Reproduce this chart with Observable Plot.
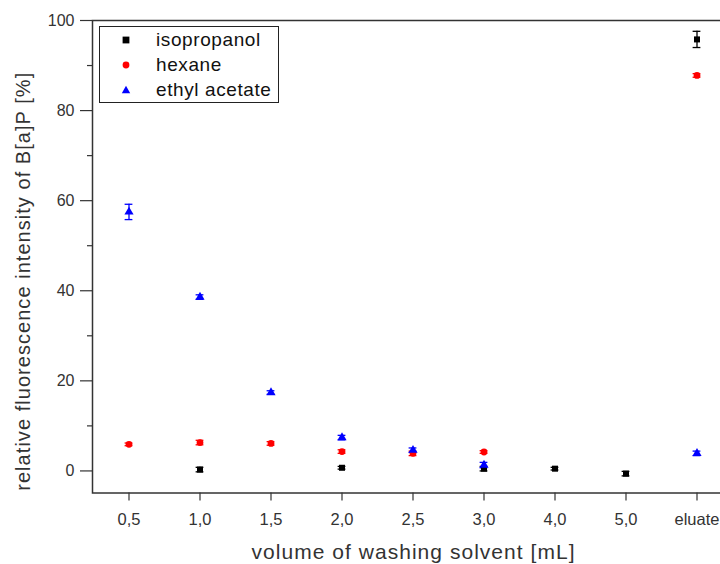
<!DOCTYPE html>
<html>
<head>
<meta charset="utf-8">
<script src="https://cdn.jsdelivr.net/npm/d3@7"></script>
<script src="https://cdn.jsdelivr.net/npm/@observablehq/plot@0.6"></script>
<style>
  html, body { margin: 0; padding: 0; background: white; overflow: hidden; }
  #wrap { position: relative; width: 720px; height: 564px; font-family: "Liberation Sans", Arial, sans-serif; }
  #legend { position: absolute; left: 99px; top: 26px; width: 178px; height: 75px; border: 1.5px solid #222; background: white; }
  .row { position: absolute; left: 0; height: 22px; display: flex; align-items: center; font-size: 19px; letter-spacing: 0.6px; color: #111; }
  .row svg { position: absolute; left: 20px; }
  .row span { position: absolute; left: 56px; white-space: nowrap; }
</style>
</head>
<body>
<div id="wrap"></div>
<script>
const categories = ["0,5", "1,0", "1,5", "2,0", "2,5", "3,0", "4,0", "5,0", "eluate"];
const seriesNames = ["isopropanol", "hexane", "ethyl acetate"];
const seriesColors = ["#000000", "#ff0000", "#0000ff"];
const seriesSymbols = ["square", "circle", "triangle"];
const isopropanol    = [null, 0.3, null, 0.7, null, 0.5, 0.5, -0.6, 95.8];
const isopropanolErr = [null, 0.5, null, 0.3, null, 0.5, 0.3, 0.5, 1.8];
const hexane         = [5.9, 6.3, 6.1, 4.3, 3.9, 4.2, null, null, 87.8];
const hexaneErr      = [0.3, 0.5, 0.4, 0.4, 0.5, 0.3, null, null, 0.4];
const ethylAcetate    = [57.5, 38.6, 17.4, 7.4, 4.6, 1.3, null, null, 3.9];
const ethylAcetateErr = [1.7, 0.5, 0.4, 0.5, 0.5, 0.6, null, null, 0.5];
const yMajorTicks = [0, 20, 40, 60, 80, 100];
const yMinorTicks = [10, 30, 50, 70, 90];
const xLabel = "volume of washing solvent [mL]";
const yLabel = "relative fluorescence intensity of B[a]P [%]";

const values = [isopropanol, hexane, ethylAcetate];
const errors = [isopropanolErr, hexaneErr, ethylAcetateErr];
const rows = [];
seriesNames.forEach((s, i) => {
  categories.forEach((c, j) => {
    if (values[i][j] != null) rows.push({series: s, cat: c, v: values[i][j], e: errors[i][j]});
  });
});

const W = 720, H = 564, ML = 92, MR = -13, MT = 20, MB = 71.5;
const bandwidth = (W - MR - ML) / categories.length;
const capInset = bandwidth / 2 - 4;

const font = "Liberation Sans, Arial, sans-serif";
const chart = Plot.plot({
  width: W,
  height: H,
  marginLeft: ML,
  marginRight: MR,
  marginTop: MT,
  marginBottom: MB,
  style: {fontFamily: font, fontSize: "16px", color: "#333", background: "white"},
  x: {type: "band", domain: categories, padding: 0},
  y: {domain: [-4.9, 100]},
  color: {domain: seriesNames, range: seriesColors},
  symbol: {domain: seriesNames, range: seriesSymbols},
  marks: [
    Plot.axisY(yMajorTicks, {tickSize: 12, tickPadding: 6, label: null, stroke: "#333", strokeWidth: 1.2, fill: "#333", fontSize: 16}),
    Plot.axisY(yMinorTicks, {tickSize: 5, tickFormat: () => "", label: null, stroke: "#333", strokeWidth: 1.2}),
    Plot.axisX({tickSize: 8, tickPadding: 12, label: null, stroke: "#333", strokeWidth: 1.2, fill: "#333", fontSize: 16.5}),
    Plot.frame({stroke: "#333", strokeWidth: 1.5}),
    Plot.ruleX(rows, {x: "cat", y1: d => d.v - d.e, y2: d => d.v + d.e, stroke: "series", strokeWidth: 1.3}),
    Plot.tickY(rows, {x: "cat", y: d => d.v + d.e, stroke: "series", strokeWidth: 1.3, insetLeft: capInset, insetRight: capInset}),
    Plot.tickY(rows, {x: "cat", y: d => d.v - d.e, stroke: "series", strokeWidth: 1.3, insetLeft: capInset, insetRight: capInset}),
    Plot.dot(rows, {x: "cat", y: "v", symbol: "series", fill: "series", stroke: "none", r: 3.4}),
    Plot.text([xLabel], {frameAnchor: "bottom", text: d => d, textAnchor: "middle", lineAnchor: "middle", dy: 59, fontSize: 21, fill: "#333"}),
    Plot.text([yLabel], {frameAnchor: "left", text: d => d, rotate: -90, textAnchor: "middle", lineAnchor: "middle", dx: -69, dy: 25, fontSize: 20, fill: "#333"})
  ]
});
d3.select(chart).selectAll("text").each(function() {
  const t = this.textContent;
  if (t === xLabel) d3.select(this).attr("textLength", 323).attr("lengthAdjust", "spacing");
  if (t === yLabel) d3.select(this).attr("textLength", 418).attr("lengthAdjust", "spacing");
});
const wrap = document.getElementById("wrap");
wrap.appendChild(chart);

const legend = document.createElement("div");
legend.id = "legend";
const shapes = {
  square: '<rect x="2.6" y="2.6" width="6.8" height="6.8"/>',
  circle: '<circle cx="6" cy="6" r="3.4"/>',
  triangle: '<path d="M6,1.8 L10.2,9.3 L1.8,9.3 Z"/>'
};
const tops = [2, 27, 52];
seriesNames.forEach((s, i) => {
  const r = document.createElement("div");
  r.className = "row";
  r.style.top = tops[i] + "px";
  r.innerHTML = `<svg width="12" height="12" style="fill:${seriesColors[i]}">${shapes[seriesSymbols[i]]}</svg><span>${s}</span>`;
  legend.appendChild(r);
});
wrap.appendChild(legend);
</script>
</body>
</html>
